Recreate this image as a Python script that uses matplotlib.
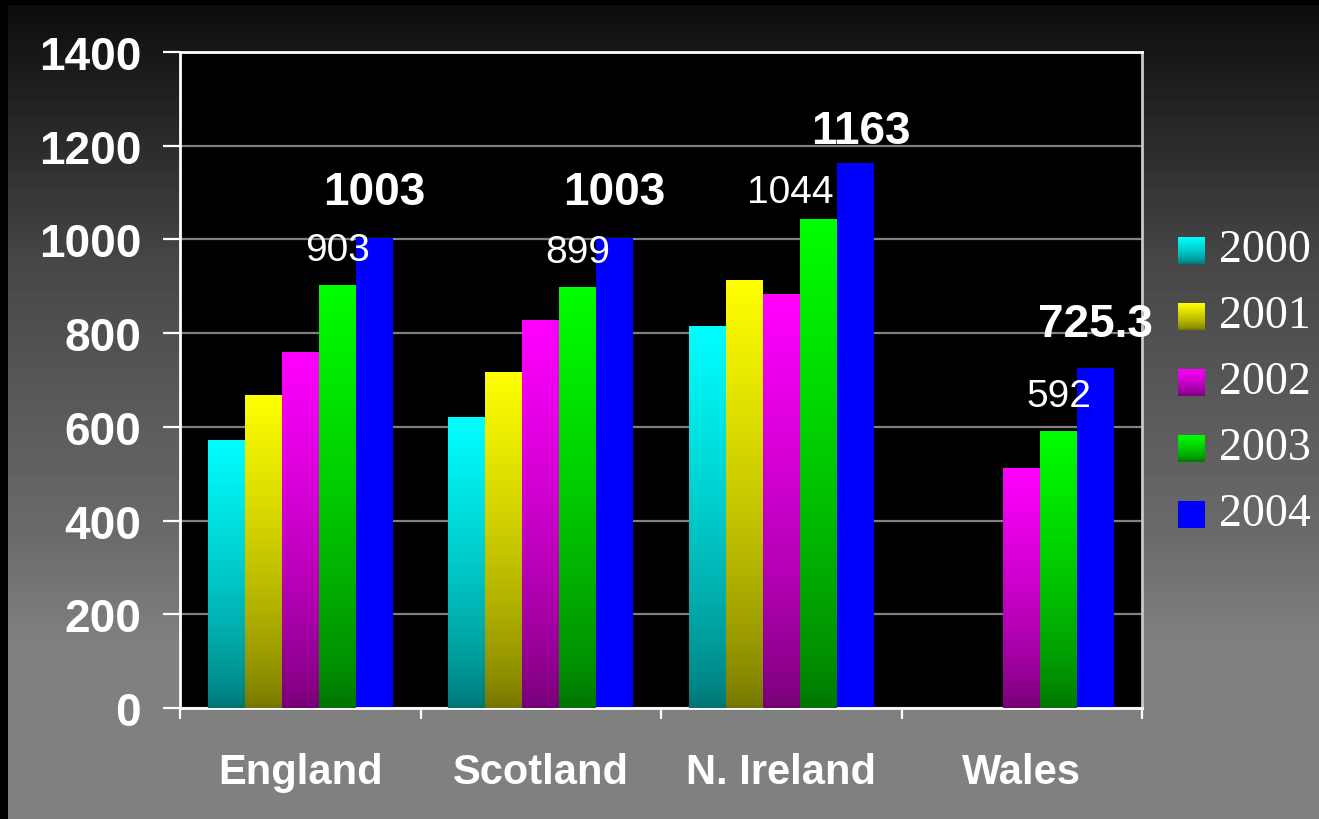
import matplotlib
matplotlib.use('Agg')
import matplotlib.pyplot as plt
import numpy as np

# data
regions = ['England', 'Scotland', 'N. Ireland', 'Wales']
years = ['2000', '2001', '2002', '2003', '2004']
v2000 = [573, 620, 815, np.nan]
v2001 = [668, 717, 913, np.nan]
v2002 = [760, 828, 883, 513]
v2003 = [903, 899, 1044, 592]
v2004 = [1003, 1003, 1163, 725.3]
series = [v2000, v2001, v2002, v2003, v2004]

colors = [(0, 1, 1), (1, 1, 0), (1, 0, 1), (0, 1, 0), (0, 0, 1)]
use_gradient = [True, True, True, True, False]

# label nudges (points), the original placed them by hand
off2003 = [(0, 25), (0, 25), (-20, 19), (0, 25)]
off2004 = [(0, 33), (0, 33), (4, 23), (0, 32)]

sans = 'Liberation Sans'
serif = 'Liberation Serif'


def grad(color, n=256):
    top = np.array(color, dtype=float)
    bottom = top * 0.45
    t = np.linspace(0, 1, n)[:, None] ** 0.7
    return (bottom + (top - bottom) * t)[:, None, :]


fig = plt.figure(figsize=(13.19, 8.2), dpi=100)

# background: dark at top, grey at bottom, thin black border top/left
bg = fig.add_axes([0, 0, 1, 1], zorder=-5)
H, W = 820, 1319
ys = np.arange(H)
g = np.interp(ys, [6, 267, 540, 640, 820], [0.05, 0.28, 0.42, 0.5, 0.5])
img = np.repeat(g[:, None], W, axis=1)
img[:6, :] = 0
img[:, :8] = 0
bg.imshow(img, cmap='gray', vmin=0, vmax=1, aspect='auto', extent=(0, 1, 0, 1), origin='upper')
bg.axis('off')

ax = fig.add_axes([180 / 1319, 1 - 709 / 820, 962 / 1319, 656 / 820])
ax.set_facecolor('black')

x = np.arange(len(regions))
width = 0.1535
for i, (vals, col, gr) in enumerate(zip(series, colors, use_gradient)):
    bars = ax.bar(x + (i - 2) * width, vals, width, color=col, linewidth=0, zorder=2)
    if gr:
        for b in bars:
            h = b.get_height()
            if np.isnan(h):
                continue
            im = ax.imshow(grad(col), extent=(b.get_x(), b.get_x() + b.get_width(), 0, h),
                           origin='lower', aspect='auto', zorder=3)
            im.set_clip_path(b)

# value labels: 2003 normal, 2004 bold
for xi, v, off in zip(x, v2003, off2003):
    ax.annotate(f'{v:g}', (xi + 1 * width, v), xytext=off, textcoords='offset points',
                ha='center', va='center', color='white', fontsize=28, family=sans, zorder=5)
for xi, v, off in zip(x, v2004, off2004):
    ax.annotate(f'{v:g}', (xi + 2 * width, v), xytext=off, textcoords='offset points',
                ha='center', va='center', color='white', fontsize=33, fontweight='bold',
                family=sans, zorder=5, annotation_clip=False)

ax.set_xlim(-0.5, 3.5)
ax.set_ylim(0, 1400)
ax.set_yticks(np.arange(0, 1401, 200))
ax.yaxis.grid(True, color='#808080', linewidth=1.6, zorder=0)
ax.set_axisbelow(True)
ax.tick_params(axis='y', colors='white', length=12, width=1.6, pad=16, labelsize=33)
for lab in ax.get_yticklabels():
    lab.set_fontweight('bold')
    lab.set_family(sans)

ax.set_xticks(np.arange(-0.5, 4, 1.0))
ax.set_xticklabels([])
ax.set_xticks(x, minor=True)
ax.set_xticklabels(regions, minor=True)
ax.tick_params(axis='x', which='major', colors='white', length=8, width=1.6)
ax.tick_params(axis='x', which='minor', length=0, pad=32, labelsize=30, labelcolor='white')
for lab in ax.get_xticklabels(minor=True):
    lab.set_fontweight('bold')
    lab.set_family(sans)

for s in ['left', 'bottom', 'top']:
    ax.spines[s].set_color('white')
    ax.spines[s].set_linewidth(2)
ax.spines['right'].set_color('#c8c8c8')
ax.spines['right'].set_linewidth(2)

# legend, drawn by hand so the swatches keep the gradient
for k, (yr, col, gr) in enumerate(zip(years, colors, use_gradient)):
    yc = 251 + k * 66
    sw = fig.add_axes([1178 / 1319, 1 - (yc + 14) / 820, 27 / 1319, 27 / 820])
    if gr:
        sw.imshow(grad(col), origin='lower', aspect='auto')
        sw.axis('off')
    else:
        sw.set_facecolor(col)
        for sp in sw.spines.values():
            sp.set_visible(False)
    sw.set_xticks([])
    sw.set_yticks([])
    fig.text(1219 / 1319, 1 - yc / 820, yr, color='white', fontsize=33, family=serif,
             ha='left', va='center')

fig.savefig('out.png', dpi=100)
